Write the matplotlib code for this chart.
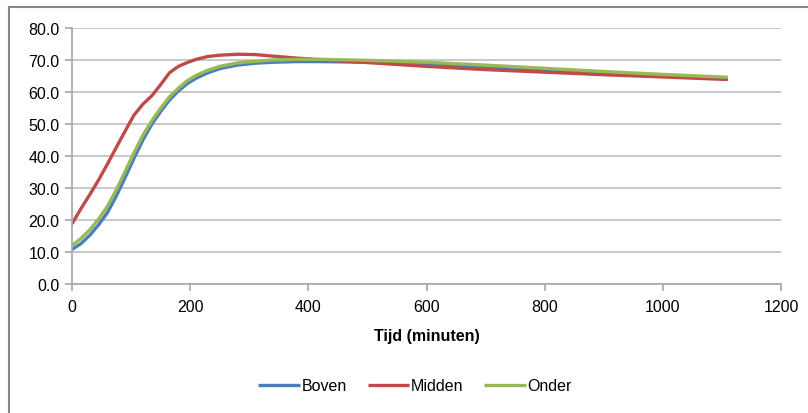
import matplotlib
matplotlib.use("Agg")
import matplotlib.pyplot as plt
from matplotlib.lines import Line2D

plt.rcParams['font.family'] = ['Liberation Sans', 'DejaVu Sans']

# tijd in minuten
tijd = [0, 15, 30, 45, 60, 75, 90, 105, 120, 135, 150, 165, 180, 195, 210, 230,
        250, 280, 310, 340, 380, 420, 500, 600, 700, 800, 900, 1000, 1110]

boven = [10.8, 12.6, 15.2, 18.5, 22.3, 27.5, 33.3, 39.3, 45.0, 49.9, 53.9, 57.5,
         60.3, 62.6, 64.3, 66.0, 67.3, 68.4, 69.0, 69.3, 69.5, 69.5, 69.3, 68.8,
         67.8, 66.8, 66.0, 65.2, 64.3]
midden = [18.8, 23.5, 27.9, 32.5, 37.5, 42.7, 47.8, 52.8, 56.2, 58.8, 62.3, 66.0,
          68.0, 69.2, 70.2, 71.1, 71.5, 71.8, 71.7, 71.2, 70.6, 70.1, 69.2, 68.0,
          67.0, 66.2, 65.4, 64.7, 63.9]
onder = [12.0, 14.2, 16.9, 20.3, 24.3, 29.4, 35.2, 41.0, 46.5, 51.0, 54.9, 58.5,
         61.2, 63.5, 65.2, 66.8, 68.0, 69.1, 69.6, 70.0, 70.2, 70.2, 69.9, 69.3,
         68.4, 67.4, 66.4, 65.5, 64.6]

series = [("Boven", boven, "#4A7EBB"),
          ("Midden", midden, "#BE4B48"),
          ("Onder", onder, "#98B954")]

fig = plt.figure(figsize=(8.08, 4.14), dpi=100)
ax = fig.add_axes([72 / 808, 1 - 285 / 414, (781 - 72) / 808, (285 - 29) / 414])

for name, vals, col in series:
    ax.plot(tijd, vals, color=col, lw=2.4, label=name,
            solid_capstyle='butt', solid_joinstyle='round')

ax.set_xlim(0, 1200)
ax.set_ylim(0, 80)
ax.set_xticks(range(0, 1201, 200))
ax.set_yticks(range(0, 81, 10))
ax.set_yticklabels([f"{v:.1f}" for v in range(0, 81, 10)])
ax.yaxis.grid(True, color="#BFBFBF", lw=1.2)
ax.set_axisbelow(True)
for s in ["top", "right"]:
    ax.spines[s].set_visible(False)
for s in ["left", "bottom"]:
    ax.spines[s].set_color("#A6A6A6")
    ax.spines[s].set_linewidth(1.2)
ax.tick_params(axis='both', colors="#A6A6A6", length=5, width=1.2,
               labelcolor="#000000", labelsize=11.5)
ax.tick_params(axis='x', pad=6)
ax.tick_params(axis='y', pad=4)
ax.set_xlabel("Tijd (minuten)", fontsize=11.5, fontweight='bold', labelpad=10)

fig.legend(loc='center', bbox_to_anchor=(415 / 808, 1 - 387 / 414), ncol=3,
           frameon=False, fontsize=11.5, handlelength=2.6, handletextpad=0.1,
           columnspacing=1.3)

# figure frame (top and left edges visible)
fig.add_artist(Line2D([8.5 / 808, 8.5 / 808], [0, 1 - 7.5 / 414],
                      transform=fig.transFigure, color="#868686", lw=1.5))
fig.add_artist(Line2D([8.5 / 808, 1], [1 - 7.5 / 414, 1 - 7.5 / 414],
                      transform=fig.transFigure, color="#868686", lw=1.5))

fig.savefig("out.png", dpi=100)
